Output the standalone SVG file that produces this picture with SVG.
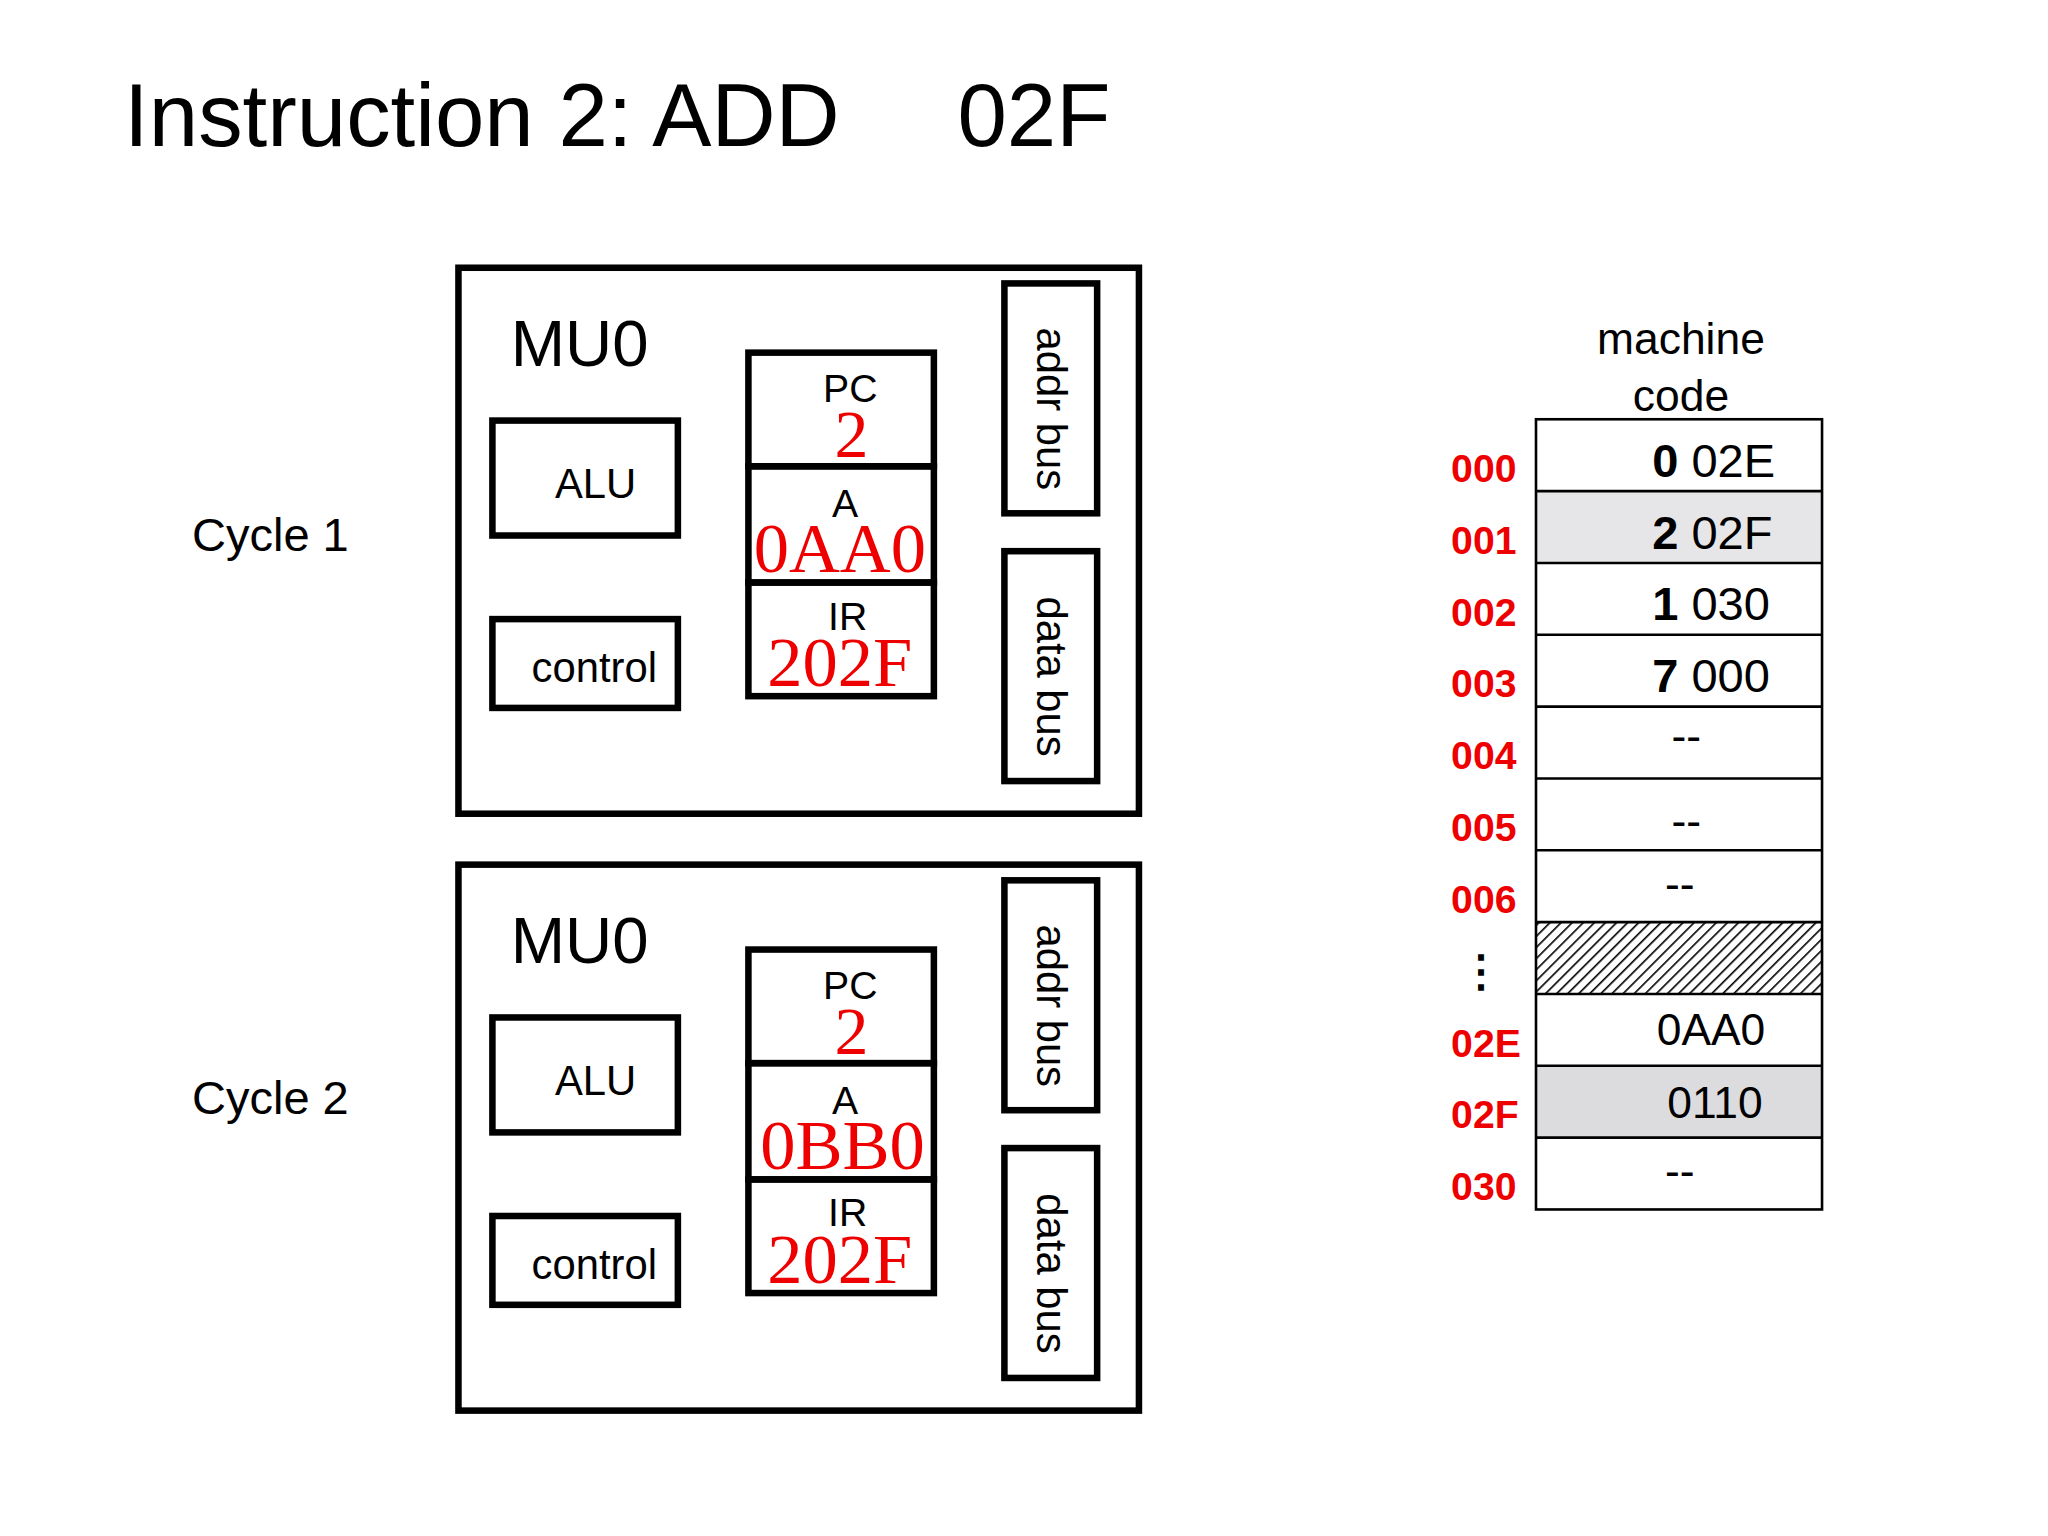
<svg xmlns="http://www.w3.org/2000/svg" width="2048" height="1536" viewBox="0 0 2048 1536">
<style>
.b{fill:none;stroke:#000;stroke-width:5}
.t{font-family:"Liberation Sans",Arial,sans-serif;fill:#000}
.r{font-family:"Liberation Serif","Times New Roman",serif;fill:#e00}
.a{font-family:"Liberation Sans",Arial,sans-serif;fill:#e00;font-weight:bold;font-size:30px}
.c{stroke:#000;stroke-width:2}
</style>
<defs>
<pattern id="h" width="6" height="6" patternUnits="userSpaceOnUse" patternTransform="rotate(45)">
<rect width="6" height="6" fill="#fff"/><line x1="0" y1="0" x2="0" y2="6" stroke="#000" stroke-width="2.5"/>
</pattern>
<g id="cpu">
<rect class="b" x="351" y="0" width="521" height="418"/>
<text class="t" x="391" y="75" font-size="50">MU0</text>
<rect class="b" x="377" y="117" width="142" height="88"/>
<text class="t" x="456" y="176" font-size="32" text-anchor="middle">ALU</text>
<rect class="b" x="377" y="269" width="142" height="68"/>
<text class="t" x="455" y="317" font-size="32" text-anchor="middle">control</text>
<rect class="b" x="573" y="65" width="142" height="87"/>
<rect class="b" x="573" y="152" width="142" height="89"/>
<rect class="b" x="573" y="241" width="142" height="87"/>
<text class="t" x="651" y="103" font-size="30" text-anchor="middle">PC</text>
<text class="r" x="652" y="145" font-size="52" text-anchor="middle">2</text>
<text class="t" x="647" y="191" font-size="30" text-anchor="middle">A</text>
<text class="t" x="649" y="277" font-size="30" text-anchor="middle">IR</text>
<text class="r" x="643" y="320" font-size="54" text-anchor="middle">202F</text>
<rect class="b" x="769" y="12" width="71" height="176"/>
<rect class="b" x="769" y="217" width="71" height="176"/>
<text class="t" font-size="32" text-anchor="middle" transform="translate(794,108) rotate(90)">addr bus</text>
<text class="t" font-size="32" text-anchor="middle" transform="translate(794,313) rotate(90)">data bus</text>
</g>
</defs>
<g transform="scale(1.30612)">
<text class="t" x="95" y="112" font-size="68">Instruction 2: ADD</text>
<text class="t" x="733" y="112" font-size="68">02F</text>
<text class="t" x="147" y="422" font-size="36">Cycle 1</text>
<text class="t" x="147" y="853" font-size="36">Cycle 2</text>
<g id="cycle1" transform="translate(0,205)"><use href="#cpu"/><text class="r" x="643" y="233" font-size="54" text-anchor="middle">0AA0</text></g>
<g id="cycle2" transform="translate(0,662)"><use href="#cpu"/><text class="r" x="645" y="233" font-size="54" text-anchor="middle">0BB0</text></g>
<g id="memory">
<text class="t" x="1287" y="271" font-size="34" text-anchor="middle">machine</text>
<text class="t" x="1287" y="315" font-size="34" text-anchor="middle">code</text>
<rect x="1176" y="376" width="219" height="55" fill="#e6e6e8"/>
<rect x="1176" y="816" width="219" height="55" fill="#dcdcde"/>
<rect x="1176" y="706" width="219" height="55" fill="url(#h)"/>
<rect x="1176" y="321" width="219" height="605" fill="none" stroke="#000" stroke-width="2"/>
<path class="c" d="M1176 376H1395M1176 431H1395M1176 486H1395M1176 541H1395M1176 596H1395M1176 651H1395M1176 706H1395M1176 761H1395M1176 816H1395M1176 871H1395"/>
<g class="a">
<text x="1111" y="369">000</text><text x="1111" y="424">001</text><text x="1111" y="479">002</text><text x="1111" y="534">003</text><text x="1111" y="589">004</text><text x="1111" y="644">005</text><text x="1111" y="699">006</text><text x="1111" y="809">02E</text><text x="1111" y="864">02F</text><text x="1111" y="919">030</text>
</g>
<text class="t" x="1117" y="755" font-size="34" font-weight="bold">⋮</text>
<g class="t" font-size="36">
<text x="1265" y="365"><tspan font-weight="bold">0</tspan> 02E</text>
<text x="1265" y="420"><tspan font-weight="bold">2</tspan> 02F</text>
<text x="1265" y="475"><tspan font-weight="bold">1</tspan> 030</text>
<text x="1265" y="530"><tspan font-weight="bold">7</tspan> 000</text>
</g>
<g class="t" font-size="34" text-anchor="middle">
<text x="1291" y="575">--</text><text x="1291" y="640">--</text><text x="1286" y="688">--</text>
<text x="1310" y="800">0AA0</text><text x="1313" y="856">0110</text><text x="1286" y="908">--</text>
</g>
</g>
</g>
</svg>
